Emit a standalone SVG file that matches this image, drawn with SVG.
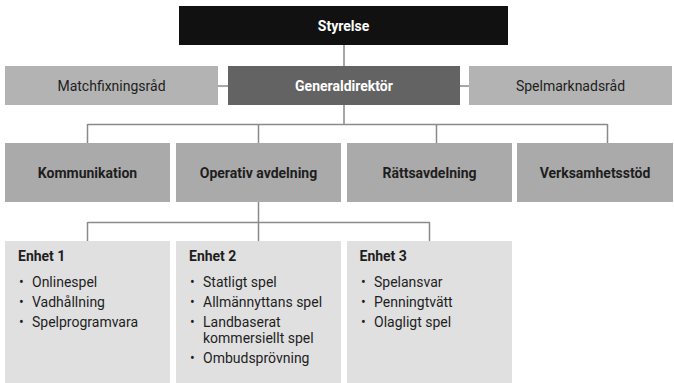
<svg xmlns="http://www.w3.org/2000/svg" width="674" height="383" viewBox="0 0 674 383">
<style>
text{font-family:Roboto,"Liberation Sans",sans-serif;font-size:14px;fill:#1e1e1e}
.c{text-anchor:middle}
.b{font-weight:bold}
.w{fill:#fff}
.lite{fill:#b3b3b3}
.dept{fill:#aaaaaa}
.unit{fill:#e0e0e0}
.ln{stroke:#8a8a8a;stroke-width:1.5;fill:none}
</style>
<rect width="674" height="383" fill="#fff"/>
<g id="connectors">
<path class="ln" d="M344 45V66M218 86H228M460 86H469M344 105V124.5M87.5 124.5H607.5M87.5 124V143M258.5 124V143M436.5 124V143M607.5 124V143M258.5 202V222.5M87.5 222.5H429.5M87.5 222V241M258.5 222V241M429.5 222V241"/>
</g>
<g id="styrelse"><rect x="179" y="6" width="329" height="39" fill="#111"/><text class="c b w" x="343.5" y="30.5">Styrelse</text></g>
<g id="matchfixningsrad"><rect class="lite" x="5" y="66" width="213" height="39"/><text class="c" x="111.5" y="90.5">Matchfixningsråd</text></g>
<g id="generaldirektor"><rect x="228" y="66" width="232" height="39" fill="#636363"/><text class="c b w" x="344" y="90.5">Generaldirektör</text></g>
<g id="spelmarknadsrad"><rect class="lite" x="469" y="66" width="203" height="39"/><text class="c" x="570.5" y="90.5">Spelmarknadsråd</text></g>
<g id="kommunikation"><rect class="dept" x="5" y="143" width="165" height="59"/><text class="c b" x="87.5" y="177.5">Kommunikation</text></g>
<g id="operativ"><rect class="dept" x="176" y="143" width="165" height="59"/><text class="c b" x="258.5" y="177.5">Operativ avdelning</text></g>
<g id="ratts"><rect class="dept" x="347" y="143" width="165" height="59"/><text class="c b" x="429.5" y="177.5">Rättsavdelning</text></g>
<g id="verksamhet"><rect class="dept" x="517" y="143" width="156" height="59"/><text class="c b" x="595" y="177.5">Verksamhetsstöd</text></g>
<g id="enhet1"><rect class="unit" x="5" y="241" width="165" height="142"/>
<text class="b" x="18" y="261">Enhet 1</text>
<text x="19" y="287">•</text><text x="32" y="287">Onlinespel</text>
<text x="19" y="307">•</text><text x="32" y="307">Vadhållning</text>
<text x="19" y="327">•</text><text x="32" y="327">Spelprogramvara</text>
</g>
<g id="enhet2"><rect class="unit" x="176" y="241" width="165" height="142"/>
<text class="b" x="189" y="261">Enhet 2</text>
<text x="190" y="287">•</text><text x="203" y="287">Statligt spel</text>
<text x="190" y="307">•</text><text x="203" y="307">Allmännyttans spel</text>
<text x="190" y="327">•</text><text x="203" y="327">Landbaserat</text><text x="203" y="343">kommersiellt spel</text>
<text x="190" y="363">•</text><text x="203" y="363">Ombudsprövning</text>
</g>
<g id="enhet3"><rect class="unit" x="347" y="241" width="165" height="142"/>
<text class="b" x="359.5" y="261">Enhet 3</text>
<text x="361" y="287">•</text><text x="374" y="287">Spelansvar</text>
<text x="361" y="307">•</text><text x="374" y="307">Penningtvätt</text>
<text x="361" y="327">•</text><text x="374" y="327">Olagligt spel</text>
</g>
</svg>
